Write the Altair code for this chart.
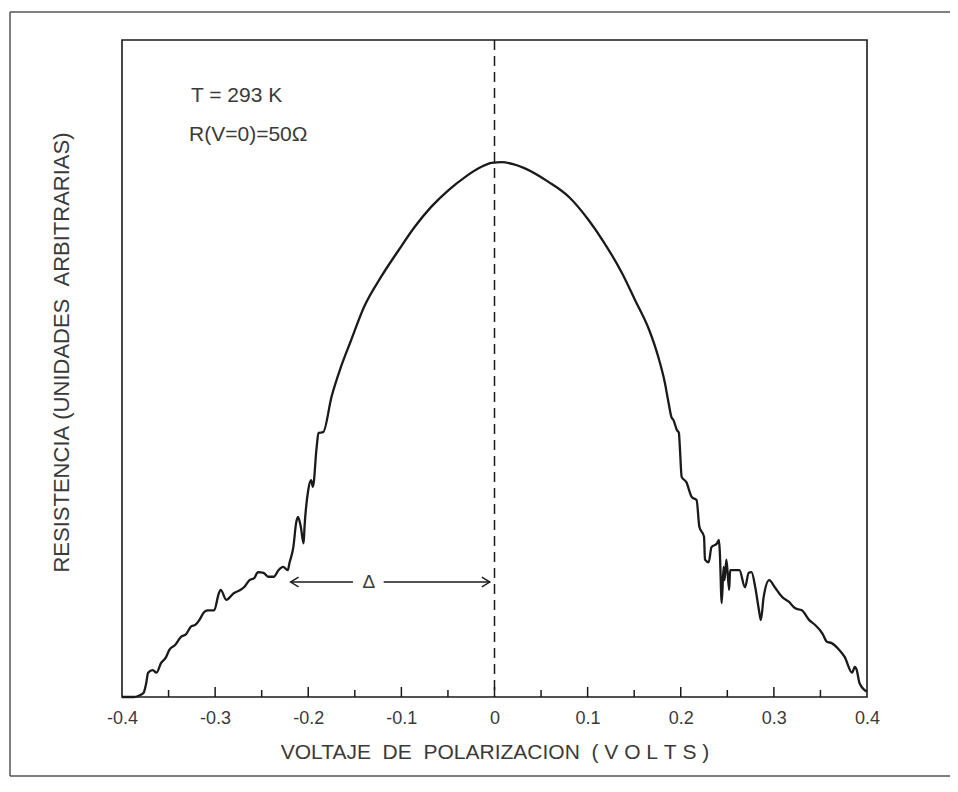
import altair as alt
import pandas as pd

# Curve (volts, arbitrary resistance units 0..100)
volts = [
    -0.400, -0.387, -0.382, -0.377, -0.374, -0.372, -0.367, -0.363, -0.358, -0.353,
    -0.349, -0.343, -0.337, -0.331, -0.326, -0.321, -0.317, -0.312, -0.308, -0.301,
    -0.296, -0.294, -0.288, -0.280, -0.274, -0.269, -0.263, -0.258, -0.254, -0.248,
    -0.243, -0.237, -0.232, -0.227, -0.222, -0.220, -0.216, -0.213, -0.211, -0.208,
    -0.205, -0.204, -0.200, -0.197, -0.195, -0.191, -0.189, -0.184, -0.175, -0.165,
    -0.154, -0.140, -0.122, -0.103, -0.086, -0.068, -0.049, -0.032, -0.014, -0.003,
    0.008, 0.020, 0.032, 0.058, 0.080, 0.101, 0.118, 0.137, 0.151, 0.166,
    0.176, 0.183, 0.187, 0.190, 0.192, 0.196, 0.198, 0.199, 0.201, 0.206,
    0.212, 0.217, 0.220, 0.225, 0.226, 0.230, 0.233, 0.239, 0.241, 0.242,
    0.244, 0.246, 0.247, 0.249, 0.252, 0.253, 0.258, 0.263, 0.269, 0.273,
    0.276, 0.280, 0.284, 0.286, 0.289, 0.295, 0.301, 0.309, 0.316, 0.323,
    0.330, 0.338, 0.344, 0.352, 0.357, 0.362, 0.370, 0.376, 0.384, 0.387,
    0.389, 0.392, 0.400,
]
resist = [
    0.0, 0.0, 0.2, 0.6, 2.1, 3.7, 4.1, 3.7, 5.2, 6.0,
    7.2, 7.9, 9.1, 9.6, 10.7, 11.0, 11.7, 12.9, 13.2, 13.2,
    15.8, 16.3, 14.8, 15.8, 16.2, 16.7, 17.8, 18.1, 19.0, 18.9,
    18.3, 18.3, 19.3, 19.8, 19.3, 20.5, 22.8, 26.5, 27.4, 25.9,
    23.4, 25.9, 31.5, 33.0, 32.0, 38.0, 40.2, 40.3, 45.7, 50.2,
    54.3, 59.4, 63.9, 68.0, 71.5, 74.6, 77.2, 79.1, 80.7, 81.3,
    81.4, 81.1, 80.5, 78.4, 76.1, 72.6, 69.1, 64.5, 60.4, 55.9,
    51.7, 47.8, 44.7, 42.6, 42.2, 40.6, 40.2, 38.1, 33.5, 32.7,
    30.4, 30.0, 25.9, 24.4, 20.9, 20.5, 22.8, 23.4, 23.9, 21.9,
    14.3, 19.8, 17.8, 20.9, 16.3, 19.3, 19.3, 19.3, 16.7, 18.9,
    19.0, 16.7, 13.2, 11.7, 15.2, 17.8, 16.7, 15.2, 14.5, 13.5,
    13.2, 11.7, 11.0, 9.7, 8.4, 8.2, 7.2, 6.1, 3.7, 4.6,
    4.1, 2.1, 0.8,
]

tick_label_values = [-0.4, -0.3, -0.2, -0.1, 0.0, 0.1, 0.2, 0.3, 0.4]
major_ticks = [-0.3, -0.2, -0.1, 0.0, 0.1, 0.2, 0.3]
minor_ticks = [-0.35, -0.25, -0.15, -0.05, 0.05, 0.15, 0.25, 0.35]

arrow_start = [-0.219, -0.119]
arrow_end = [-0.152, -0.005]
arrow_level = 17.5
delta_x = -0.135

notes = ["T = 293 K", "R(V=0)=50\u03a9"]
notes_x = [-0.326, -0.328]
notes_y = [91.5, 85.5]

W, H = 745, 657
INK = "#1a1a1a"
TXT = "#3a3a3a"
FONT = "Liberation Sans"

xs = alt.Scale(domain=[-0.4, 0.4], nice=False, zero=False)
ys = alt.Scale(domain=[0, 100], nice=False, zero=False)

curve_df = pd.DataFrame({"v": volts, "r": resist, "i": list(range(len(volts)))})

label_expr = ("datum.value == 0 ? '0' : (datum.value < 0 ? '-' : '') + "
              "format(abs(datum.value), '.1f')")

line = alt.Chart(curve_df).mark_line(
    color=INK, strokeWidth=2.3, strokeJoin="round", interpolate="monotone").encode(
    x=alt.X("v:Q", scale=xs, axis=alt.Axis(
        values=tick_label_values, labelExpr=label_expr, ticks=False, domain=False,
        grid=False, labelFlush=False, labelOverlap=False, labelFontSize=18,
        labelPadding=12, labelColor=TXT, labelFont=FONT,
        title="VOLTAJE\u00a0\u00a0DE\u00a0\u00a0POLARIZACION\u00a0\u00a0(\u00a0V\u00a0O\u00a0L\u00a0T\u00a0S\u00a0)",
        titleFontSize=21, titlePadding=14, titleFontWeight="normal", titleColor=TXT,
        titleFont=FONT)),
    y=alt.Y("r:Q", scale=ys, axis=alt.Axis(
        labels=False, ticks=False, domain=False, grid=False,
        title="RESISTENCIA\u00a0(UNIDADES\u00a0\u00a0ARBITRARIAS)",
        titleFontSize=22, titleFontWeight="normal", titleColor=TXT, titleFont=FONT,
        titleX=-61, titleY=312, titleAngle=-90, titleBaseline="middle", titleAlign="center")),
    order="i:Q",
)

zero_line = alt.Chart(pd.DataFrame({"v": [0.0]})).mark_rule(
    color=INK, strokeWidth=1.5, strokeDash=[10, 6]).encode(x=alt.X("v:Q", scale=xs))

major = alt.Chart(pd.DataFrame({"v": major_ticks})).mark_rule(color=INK, strokeWidth=1.5).encode(
    x=alt.X("v:Q", scale=xs), y=alt.value(H), y2=alt.value(H - 10))
minor = alt.Chart(pd.DataFrame({"v": minor_ticks})).mark_rule(color=INK, strokeWidth=1.5).encode(
    x=alt.X("v:Q", scale=xs), y=alt.value(H), y2=alt.value(H - 7))

arrow_df = pd.DataFrame({"a": arrow_start, "b": arrow_end, "y": [arrow_level] * 2})
arrows = alt.Chart(arrow_df).mark_rule(color=INK, strokeWidth=1.4).encode(
    x=alt.X("a:Q", scale=xs), x2="b:Q", y=alt.Y("y:Q", scale=ys))
head_l = alt.Chart(pd.DataFrame({"x": [arrow_start[0]], "y": [arrow_level]})).mark_point(
    shape="M2,-1.2L0,0L2,1.2", filled=False, color=INK, strokeWidth=1.4, size=64, opacity=1).encode(
    x=alt.X("x:Q", scale=xs), y=alt.Y("y:Q", scale=ys))
head_r = alt.Chart(pd.DataFrame({"x": [arrow_end[1]], "y": [arrow_level]})).mark_point(
    shape="M-2,-1.2L0,0L-2,1.2", filled=False, color=INK, strokeWidth=1.4, size=64, opacity=1).encode(
    x=alt.X("x:Q", scale=xs), y=alt.Y("y:Q", scale=ys))
delta = alt.Chart(pd.DataFrame({"x": [delta_x], "y": [arrow_level], "t": ["\u0394"]})).mark_text(
    fontSize=19, color=TXT, font=FONT, baseline="middle", align="center").encode(
    x=alt.X("x:Q", scale=xs), y=alt.Y("y:Q", scale=ys), text="t:N")

notes_df = pd.DataFrame({"x": notes_x, "y": notes_y, "t": notes})
note_text = alt.Chart(notes_df).mark_text(
    fontSize=21, color=TXT, font=FONT, baseline="middle", align="left").encode(
    x=alt.X("x:Q", scale=xs), y=alt.Y("y:Q", scale=ys), text="t:N")

one = pd.DataFrame({"k": [0]})
frame_top = alt.Chart(one).mark_rule(color="#555", strokeWidth=1.5).encode(
    x=alt.value(-112), x2=alt.value(828), y=alt.value(-28))
frame_left = alt.Chart(one).mark_rule(color="#555", strokeWidth=1.5).encode(
    x=alt.value(-112), y=alt.value(-28), y2=alt.value(736))
frame_bottom = alt.Chart(one).mark_rule(color="#555", strokeWidth=1.5).encode(
    x=alt.value(-112), x2=alt.value(828), y=alt.value(736))

chart = alt.layer(
    zero_line, major, minor, line, arrows, head_l, head_r, delta, note_text,
    frame_top, frame_left, frame_bottom,
).properties(
    width=W, height=H,
    padding={"left": 114, "top": 32, "right": 83, "bottom": 80},
    autosize=alt.AutoSizeParams(type="none"),
).configure(
    font=FONT, background="white",
).configure_view(
    stroke=INK, strokeWidth=1.6,
)

chart.save("out.html", embed_options={"renderer": "svg", "actions": False})
